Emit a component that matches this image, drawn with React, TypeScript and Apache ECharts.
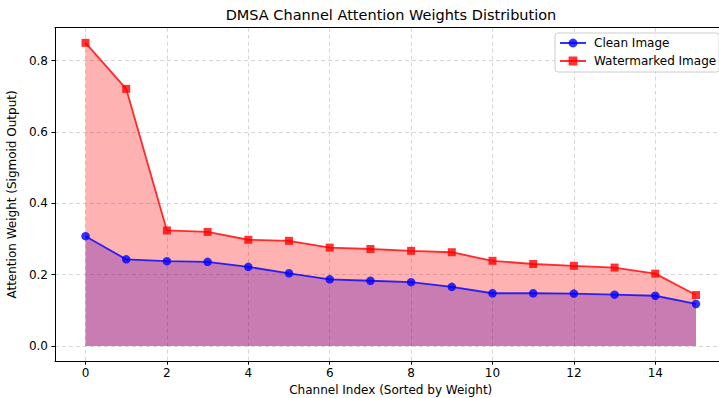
import React, { useEffect, useRef } from "react";
import * as echarts from "echarts";

const channels: number[] = [0, 1, 2, 3, 4, 5, 6, 7, 8, 9, 10, 11, 12, 13, 14, 15];
const cleanWeights: number[] = [0.308, 0.243, 0.238, 0.236, 0.222, 0.204, 0.187, 0.183, 0.179, 0.166, 0.148, 0.148, 0.147, 0.144, 0.141, 0.118];
const watermarkedWeights: number[] = [0.85, 0.721, 0.324, 0.32, 0.298, 0.295, 0.276, 0.272, 0.267, 0.263, 0.239, 0.23, 0.225, 0.22, 0.203, 0.143];
const xTicks: number[] = [0, 2, 4, 6, 8, 10, 12, 14];
const yTicks: number[] = [0, 0.2, 0.4, 0.6, 0.8];

const FONT = "DejaVu Sans";

export default function App() {
  const ref = useRef<HTMLDivElement>(null);
  useEffect(() => {
    document.body.style.margin = "0";
    const chart = echarts.init(ref.current!, null, { renderer: "svg" });
    const cleanPts = channels.map((c, i) => [c, cleanWeights[i]]);
    const wmPts = channels.map((c, i) => [c, watermarkedWeights[i]]);
    const gridLine = { show: true, lineStyle: { color: "#cccccc", type: [4, 3], width: 0.8 } };
    chart.setOption({
      animation: false,
      backgroundColor: "#ffffff",
      textStyle: { fontFamily: FONT },
      graphic: [
        {
          type: "text",
          x: 391,
          y: 15,
          style: {
            text: "DMSA Channel Attention Weights Distribution",
            textAlign: "center",
            textVerticalAlign: "middle",
            font: `14.5px "${FONT}"`,
            fill: "#000",
          },
        },
      ],
      legend: {
        data: ["Clean Image", "Watermarked Image"],
        orient: "vertical",
        left: 555,
        top: 33,
        padding: [4, 3, 5, 4],
        itemGap: 6,
        itemWidth: 26,
        itemHeight: 11,
        backgroundColor: "rgba(255,255,255,0.8)",
        borderColor: "#cccccc",
        borderWidth: 1,
        borderRadius: 3,
        textStyle: { fontFamily: FONT, fontSize: 12, color: "#000", padding: [0, 0, 0, 3] },
      },
      grid: { left: 55, top: 27.7, width: 671.5, height: 333.5, containLabel: false, outerBoundsMode: "none" },
      xAxis: [
        {
          type: "value",
          min: -0.75,
          max: 15.75,
          name: "Channel Index (Sorted by Weight)",
          nameLocation: "middle",
          nameGap: 23,
          nameTextStyle: { fontFamily: FONT, fontSize: 12, color: "#000" },
          axisLine: { show: true, onZero: false, lineStyle: { color: "#000", width: 1 } },
          axisTick: { show: true, length: 3.5, customValues: xTicks, lineStyle: { color: "#000" } },
          axisLabel: { customValues: xTicks, fontFamily: FONT, fontSize: 12, color: "#000", margin: 6 },
          splitLine: gridLine,
        },
        {
          type: "value",
          position: "top",
          min: -0.75,
          max: 15.75,
          axisLine: { show: true, onZero: false, lineStyle: { color: "#000", width: 1 } },
          axisTick: { show: false },
          axisLabel: { show: false },
          splitLine: { show: false },
        },
      ],
      yAxis: {
        type: "value",
        min: -0.0425,
        max: 0.8925,
        name: "Attention Weight (Sigmoid Output)",
        nameLocation: "middle",
        nameGap: 36,
        nameTextStyle: { fontFamily: FONT, fontSize: 12, color: "#000" },
        axisLine: { show: true, onZero: false, lineStyle: { color: "#000", width: 1 } },
        axisTick: { show: true, length: 3.5, customValues: yTicks, lineStyle: { color: "#000" } },
        axisLabel: {
          customValues: yTicks,
          fontFamily: FONT,
          fontSize: 12,
          color: "#000",
          margin: 7,
          formatter: (v: number) => v.toFixed(1),
        },
        splitLine: gridLine,
      },
      series: [
        {
          name: "cleanArea",
          type: "line",
          data: cleanPts,
          showSymbol: false,
          symbol: "none",
          lineStyle: { width: 0 },
          areaStyle: { color: "rgba(0,0,255,0.3)", origin: 0, opacity: 1 },
          silent: true,
          z: 1,
        },
        {
          name: "wmArea",
          type: "line",
          data: wmPts,
          showSymbol: false,
          symbol: "none",
          lineStyle: { width: 0 },
          areaStyle: { color: "rgba(255,0,0,0.3)", origin: 0, opacity: 1 },
          silent: true,
          z: 1,
        },
        {
          name: "Clean Image",
          type: "line",
          data: cleanPts,
          symbol: "circle",
          symbolSize: 8.5,
          itemStyle: { color: "rgba(0,0,255,0.8)" },
          lineStyle: { color: "rgba(0,0,255,0.8)", width: 1.8 },
          z: 3,
        },
        {
          name: "Watermarked Image",
          type: "line",
          data: wmPts,
          symbol: "rect",
          symbolSize: 8,
          itemStyle: { color: "rgba(255,0,0,0.8)" },
          lineStyle: { color: "rgba(255,0,0,0.8)", width: 1.8 },
          z: 3,
        },
      ],
    });
    return () => chart.dispose();
  }, []);
  return <div ref={ref} style={{ width: 719, height: 398 }} />;
}
